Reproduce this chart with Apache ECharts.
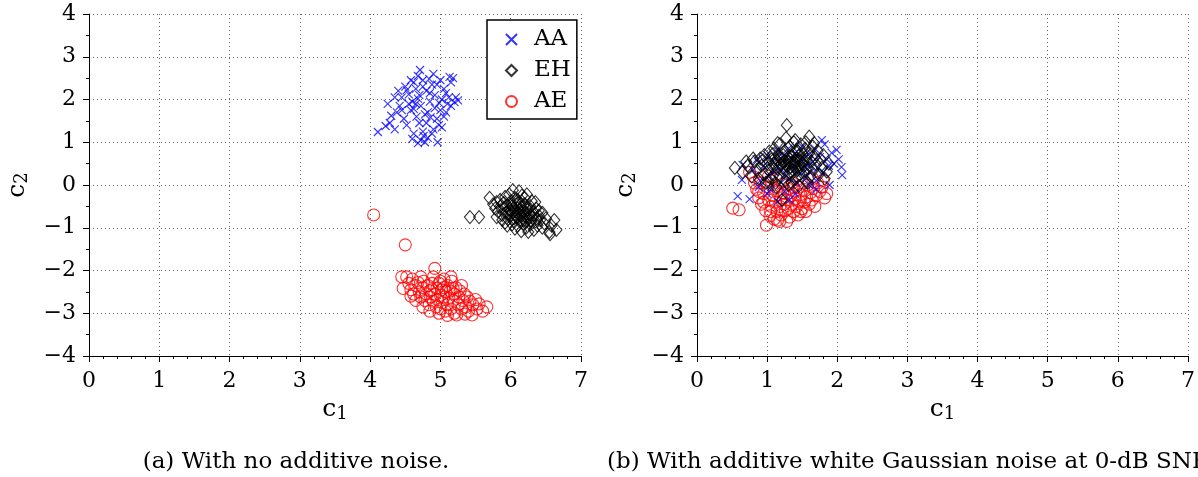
<!DOCTYPE html>
<html>
<head>
<meta charset="utf-8">
<script src="https://cdn.jsdelivr.net/npm/echarts@6/dist/echarts.min.js"></script>
<style>
  html, body { margin: 0; padding: 0; background: #fff; }
  #chart { width: 1198px; height: 477px; }
</style>
</head>
<body>
<div id="chart"></div>
<script>
// Series names and tick values
const seriesNames = ['AA', 'EH', 'AE'];
const xTicks = [0, 1, 2, 3, 4, 5, 6, 7];
const yTicks = [-4, -3, -2, -1, 0, 1, 2, 3, 4];
const captions = ['(a) With no additive noise.', '(b) With additive white Gaussian noise at 0-dB SNR'];

// (a) clean features: [c1, c2]
const aaClean = [[4.11,1.24],[4.22,1.38],[4.28,1.45],[4.35,1.30],[4.30,1.62],[4.38,1.70],[4.25,1.90],[4.42,1.85],[4.45,2.05],[4.40,2.20],[4.50,2.30],[4.55,2.12],[4.48,1.55],[4.52,1.40],[4.58,1.75],[4.60,1.95],[4.62,2.40],[4.65,2.25],[4.68,2.55],[4.71,2.69],[4.75,2.45],[4.70,2.10],[4.72,1.85],[4.66,1.60],[4.62,1.20],[4.60,1.08],[4.68,0.98],[4.72,1.05],[4.78,1.00],[4.75,1.25],[4.80,1.45],[4.82,1.70],[4.85,1.95],[4.80,2.20],[4.88,2.35],[4.90,2.60],[4.85,2.15],[4.92,1.80],[4.95,1.55],[4.90,1.30],[4.96,1.00],[4.98,1.40],[5.00,1.75],[5.02,2.00],[5.05,2.25],[5.00,2.45],[5.08,2.15],[5.10,1.90],[5.12,2.05],[5.15,2.40],[5.13,2.53],[5.18,2.50],[5.20,1.94],[5.22,2.05],[5.25,1.98],[5.15,1.85],[5.05,1.60],[4.92,2.10],[4.78,1.65],[4.55,1.90],[4.45,1.75],[4.35,2.05],[4.65,1.90],[4.70,1.45],[4.88,1.20],[4.82,1.10],[5.02,1.35],[4.58,2.45],[4.75,2.30],[4.95,2.35],[4.62,1.78],[4.68,2.02],[4.86,1.58],[4.98,1.92],[4.76,1.15],[4.52,2.22],[4.84,2.48],[5.08,1.70]];
const ehClean = [[5.42,-0.75],[5.55,-0.75],[5.70,-0.30],[5.75,-0.45],[5.78,-0.55],[5.80,-0.40],[5.82,-0.62],[5.85,-0.50],[5.85,-0.35],[5.88,-0.70],[5.90,-0.55],[5.90,-0.42],[5.92,-0.28],[5.93,-0.65],[5.95,-0.48],[5.96,-0.80],[5.98,-0.58],[6.00,-0.38],[6.00,-0.70],[6.02,-0.50],[6.03,-0.12],[6.04,-0.85],[6.05,-0.62],[6.06,-0.30],[6.08,-0.45],[6.08,-0.75],[6.10,-0.55],[6.10,-0.95],[6.12,-0.68],[6.12,-0.40],[6.14,-0.82],[6.15,-0.52],[6.16,-0.25],[6.18,-0.62],[6.18,-0.90],[6.20,-0.72],[6.20,-0.45],[6.22,-1.00],[6.23,-0.22],[6.24,-0.58],[6.25,-0.80],[6.26,-0.68],[6.28,-0.92],[6.28,-0.50],[6.30,-0.75],[6.32,-0.62],[6.33,-1.05],[6.35,-0.85],[6.36,-0.55],[6.38,-0.95],[6.40,-0.72],[6.42,-0.82],[6.45,-1.00],[6.48,-0.90],[6.50,-0.78],[6.55,-1.10],[6.58,-0.95],[6.62,-0.82],[6.65,-1.05],[6.56,-1.15],[5.88,-0.82],[5.95,-0.95],[6.02,-0.92],[6.06,-1.02],[6.15,-1.08],[6.30,-0.38],[6.35,-0.40],[6.20,-0.30],[5.98,-0.22],[6.12,-0.15],[6.40,-0.60],[6.45,-0.65],[5.80,-0.75],[5.92,-0.88],[6.25,-1.10],[6.10,-0.35],[6.05,-0.78],[6.18,-0.48],[6.00,-0.60],[6.22,-0.85],[6.04,-0.55],[6.09,-0.65],[6.13,-0.58],[6.16,-0.72],[6.21,-0.64],[6.26,-0.74],[6.07,-0.70],[6.11,-0.78],[6.19,-0.82],[6.29,-0.84],[5.97,-0.66],[6.01,-0.45],[6.14,-0.45],[6.24,-0.52],[6.33,-0.70],[6.37,-0.78]];
const aeClean = [[4.05,-0.70],[4.50,-1.40],[4.47,-2.42],[4.45,-2.15],[4.52,-2.15],[4.55,-2.30],[4.58,-2.45],[4.60,-2.20],[4.62,-2.55],[4.65,-2.35],[4.68,-2.28],[4.70,-2.50],[4.72,-2.62],[4.75,-2.40],[4.76,-2.25],[4.78,-2.70],[4.80,-2.55],[4.82,-2.35],[4.84,-2.80],[4.85,-2.48],[4.86,-2.62],[4.88,-2.30],[4.90,-2.72],[4.90,-2.15],[4.92,-1.95],[4.92,-2.55],[4.94,-2.85],[4.95,-2.42],[4.96,-2.68],[4.98,-2.30],[5.00,-2.58],[5.00,-2.90],[5.02,-2.45],[5.03,-2.75],[5.05,-2.20],[5.05,-2.62],[5.07,-2.95],[5.08,-2.50],[5.10,-2.35],[5.10,-2.80],[5.12,-2.65],[5.14,-2.48],[5.15,-2.90],[5.16,-2.25],[5.18,-2.70],[5.20,-2.55],[5.20,-3.00],[5.22,-2.40],[5.23,-3.04],[5.25,-2.80],[5.26,-2.62],[5.28,-2.48],[5.30,-2.90],[5.32,-2.70],[5.34,-2.55],[5.36,-2.85],[5.38,-2.62],[5.40,-2.95],[5.42,-2.72],[5.45,-3.04],[5.46,-2.80],[5.50,-2.68],[5.52,-2.90],[5.55,-2.78],[5.60,-2.95],[5.66,-2.85],[4.65,-2.70],[4.75,-2.85],[4.85,-2.95],[5.00,-2.25],[5.15,-2.15],[5.30,-2.35],[4.58,-2.60],[4.98,-3.00],[5.10,-3.05],[5.35,-3.02],[4.88,-2.45],[5.05,-2.40],[5.18,-2.42],[4.72,-2.15]];

// (b) noisy features: [c1, c2]
const aaNoisy = [[0.58,-0.26],[0.75,-0.33],[0.65,0.47],[0.64,0.12],[0.80,0.35],[0.85,0.60],[0.90,0.10],[0.95,0.45],[1.00,0.70],[1.02,0.20],[1.05,-0.10],[1.08,0.55],[1.10,0.30],[1.15,-0.39],[1.15,0.80],[1.18,0.40],[1.20,0.05],[1.22,0.65],[1.25,0.25],[1.28,0.50],[1.30,0.85],[1.32,-0.35],[1.32,0.15],[1.35,0.60],[1.38,0.35],[1.40,0.75],[1.42,0.05],[1.45,0.50],[1.48,0.28],[1.50,0.90],[1.52,0.62],[1.55,0.18],[1.58,0.45],[1.60,0.72],[1.62,0.30],[1.65,0.55],[1.68,0.85],[1.70,0.10],[1.72,0.40],[1.75,0.65],[1.78,1.05],[1.80,0.30],[1.82,0.95],[1.85,0.60],[1.89,0.00],[1.92,0.75],[1.99,0.82],[2.02,0.60],[2.06,0.42],[2.07,0.23],[1.95,0.50],[1.88,0.45],[1.40,-0.20],[1.25,-0.15],[1.00,-0.20],[0.88,-0.05],[1.70,-0.10],[1.60,0.00]];
const ehNoisy = [[0.54,0.40],[0.65,0.30],[0.72,0.45],[0.78,0.20],[0.82,0.55],[0.85,0.35],[0.88,0.15],[0.90,0.62],[0.92,0.45],[0.95,0.25],[0.96,0.70],[0.98,0.05],[1.00,0.50],[1.02,0.35],[1.03,0.78],[1.05,0.15],[1.06,0.60],[1.08,0.42],[1.10,0.25],[1.10,0.85],[1.12,0.55],[1.13,-0.05],[1.15,0.38],[1.16,0.70],[1.18,0.20],[1.18,0.95],[1.20,0.50],[1.21,-0.35],[1.22,0.62],[1.24,0.30],[1.25,0.80],[1.26,0.10],[1.27,1.10],[1.28,1.40],[1.28,0.45],[1.30,0.65],[1.31,0.25],[1.32,0.90],[1.34,0.52],[1.35,0.05],[1.36,0.75],[1.37,0.35],[1.38,1.00],[1.40,0.58],[1.41,0.15],[1.42,0.82],[1.44,0.42],[1.45,0.68],[1.46,0.25],[1.48,0.95],[1.50,0.50],[1.51,0.72],[1.52,0.30],[1.54,0.85],[1.55,0.10],[1.56,0.60],[1.58,0.40],[1.60,1.13],[1.60,0.75],[1.62,0.20],[1.63,0.55],[1.65,0.90],[1.66,0.35],[1.68,0.65],[1.70,0.48],[1.72,0.80],[1.74,0.25],[1.76,0.60],[1.78,0.40],[1.80,0.70],[1.82,0.15],[1.85,0.31],[1.88,0.50],[1.02,0.05],[1.15,0.98],[1.22,0.40],[1.33,0.60],[1.38,0.45],[1.43,0.35],[1.47,0.58],[1.53,0.45],[1.25,0.55],[1.18,0.65],[1.08,0.72],[0.94,0.58],[1.40,1.05],[1.55,1.00],[1.67,0.98],[0.80,0.62],[0.70,0.55],[1.12,0.05],[1.30,0.00],[1.45,-0.02],[1.58,0.05],[1.26,0.48],[1.29,0.56],[1.32,0.40],[1.35,0.68],[1.39,0.52],[1.42,0.62],[1.46,0.48],[1.49,0.38],[1.23,0.70],[1.19,0.48],[1.14,0.58],[1.36,0.28],[1.44,0.78],[1.52,0.55],[1.57,0.68],[1.09,0.50]];
const aeNoisy = [[0.51,-0.54],[0.60,-0.58],[0.75,0.30],[0.80,0.20],[0.85,-0.10],[0.88,-0.30],[0.90,0.05],[0.92,-0.45],[0.95,-0.20],[0.98,-0.60],[0.99,-0.94],[1.00,-0.05],[1.02,-0.35],[1.04,-0.72],[1.05,0.10],[1.06,-0.50],[1.08,-0.25],[1.10,-0.80],[1.10,-0.08],[1.12,-0.40],[1.14,-0.62],[1.15,-0.82],[1.16,-0.15],[1.18,-0.50],[1.20,-0.30],[1.20,-0.70],[1.22,0.02],[1.24,-0.45],[1.25,-0.20],[1.26,-0.60],[1.28,-0.35],[1.30,-0.10],[1.30,-0.55],[1.32,-0.75],[1.34,-0.25],[1.35,-0.45],[1.36,0.05],[1.38,-0.62],[1.40,-0.32],[1.41,-0.15],[1.42,-0.50],[1.44,-0.70],[1.45,-0.05],[1.46,-0.38],[1.48,-0.22],[1.50,-0.55],[1.52,-0.10],[1.53,-0.40],[1.55,-0.62],[1.56,-0.28],[1.58,0.00],[1.60,-0.45],[1.62,-0.18],[1.64,-0.35],[1.66,-0.08],[1.68,-0.50],[1.70,-0.25],[1.72,0.05],[1.75,-0.15],[1.78,-0.05],[1.80,0.10],[1.82,-0.30],[1.85,-0.20],[0.95,-0.40],[1.05,-0.62],[1.18,-0.85],[1.28,-0.85],[0.82,0.05],[1.13,0.15],[1.65,0.15],[1.48,-0.62],[1.22,-0.18],[1.38,-0.05],[1.02,0.20],[0.88,-0.15]];

const FONT = '"DejaVu Serif", "Liberation Serif", serif';
const CROSS = 'path://M0,0L10,10M0,10L10,0';

const chart = echarts.init(document.getElementById('chart'), null, { renderer: 'canvas' });

// "c" with a lowered index digit, used for both axis names
const subRich = {
  c: { fontFamily: FONT, fontSize: 25, color: '#000', lineHeight: 26, verticalAlign: 'top' },
  s: { fontFamily: FONT, fontSize: 18, color: '#000', lineHeight: 18, verticalAlign: 'bottom' }
};

function xAxis(gridIndex) {
  return {
    type: 'value', gridIndex: gridIndex,
    min: xTicks[0], max: xTicks[xTicks.length - 1], interval: 1,
    axisLine: { show: true, onZero: false, lineStyle: { color: '#000', width: 1 } },
    axisTick: { show: true, inside: false, length: 6, lineStyle: { color: '#000' } },
    minorTick: { show: true, splitNumber: 5, length: 3, lineStyle: { color: '#000' } },
    splitLine: { show: true, lineStyle: { type: [1, 3], color: '#666', width: 1 } },
    axisLabel: { fontFamily: FONT, fontSize: 22, color: '#000', margin: 14 },
    name: '{c|c}{s|1}', nameLocation: 'middle', nameGap: 41,
    nameTextStyle: { rich: subRich }
  };
}

function yAxis(gridIndex) {
  return {
    type: 'value', gridIndex: gridIndex,
    min: yTicks[0], max: yTicks[yTicks.length - 1], interval: 1,
    axisLine: { show: true, onZero: false, lineStyle: { color: '#000', width: 1 } },
    axisTick: { show: true, inside: false, length: 6, lineStyle: { color: '#000' } },
    minorTick: { show: true, splitNumber: 2, length: 3, lineStyle: { color: '#000' } },
    splitLine: { show: true, lineStyle: { type: [1, 3], color: '#666', width: 1 } },
    axisLabel: {
      fontFamily: FONT, fontSize: 22, color: '#000', margin: 13,
      formatter: v => String(v).replace('-', '\u2212')
    },
    name: '{c|c}{s|2}', nameLocation: 'middle', nameGap: 58, nameRotate: 90,
    nameTextStyle: { rich: subRich }
  };
}

const styles = {
  AA: { symbol: CROSS, symbolSize: 8, itemStyle: { color: 'rgba(0,0,0,0)', borderColor: '#0000ff', borderWidth: 1.1 }, z: 3 },
  EH: { symbol: 'diamond', symbolSize: [11, 13], itemStyle: { color: 'rgba(0,0,0,0)', borderColor: '#000000', borderWidth: 1.1 }, z: 4 },
  AE: { symbol: 'circle', symbolSize: 12, itemStyle: { color: 'rgba(0,0,0,0)', borderColor: '#ff0000', borderWidth: 1.1 }, z: 2 }
};

function scatter(name, data, idx) {
  const st = styles[name];
  return {
    type: 'scatter', name: name, data: data,
    xAxisIndex: idx, yAxisIndex: idx,
    symbol: st.symbol, symbolSize: st.symbolSize, itemStyle: st.itemStyle, z: st.z,
    emphasis: { disabled: true }, silent: true, animation: false
  };
}

chart.setOption({
  animation: false,
  backgroundColor: '#fff',
  grid: [
    { left: 89, top: 14, width: 492, height: 342, show: false },
    { left: 697, top: 14, width: 493, height: 342, show: false }
  ],
  xAxis: [xAxis(0), xAxis(1)],
  yAxis: [yAxis(0), yAxis(1)],
  legend: {
    data: seriesNames,
    orient: 'vertical', left: 487, top: 20,
    backgroundColor: '#fff', borderColor: '#000', borderWidth: 1.5, borderRadius: 0,
    padding: [8, 6, 6, 18],
    itemWidth: 11, itemHeight: 11, itemGap: 8,
    textStyle: { fontFamily: FONT, fontSize: 23, color: '#000', lineHeight: 23, padding: [0, 0, 0, 12] },
    selectedMode: false
  },
  series: [
    scatter('AA', aaClean, 0),
    scatter('EH', ehClean, 0),
    scatter('AE', aeClean, 0),
    scatter('AA', aaNoisy, 1),
    scatter('EH', ehNoisy, 1),
    scatter('AE', aeNoisy, 1)
  ],
  graphic: [
    { type: 'text', x: 296, y: 462, style: { text: captions[0], font: '23px ' + FONT, fill: '#000', textAlign: 'center', textVerticalAlign: 'middle' } },
    { type: 'text', x: 607, y: 462, style: { text: captions[1], font: '23px ' + FONT, fill: '#000', textAlign: 'left', textVerticalAlign: 'middle' } }
  ]
});
</script>
</body>
</html>
